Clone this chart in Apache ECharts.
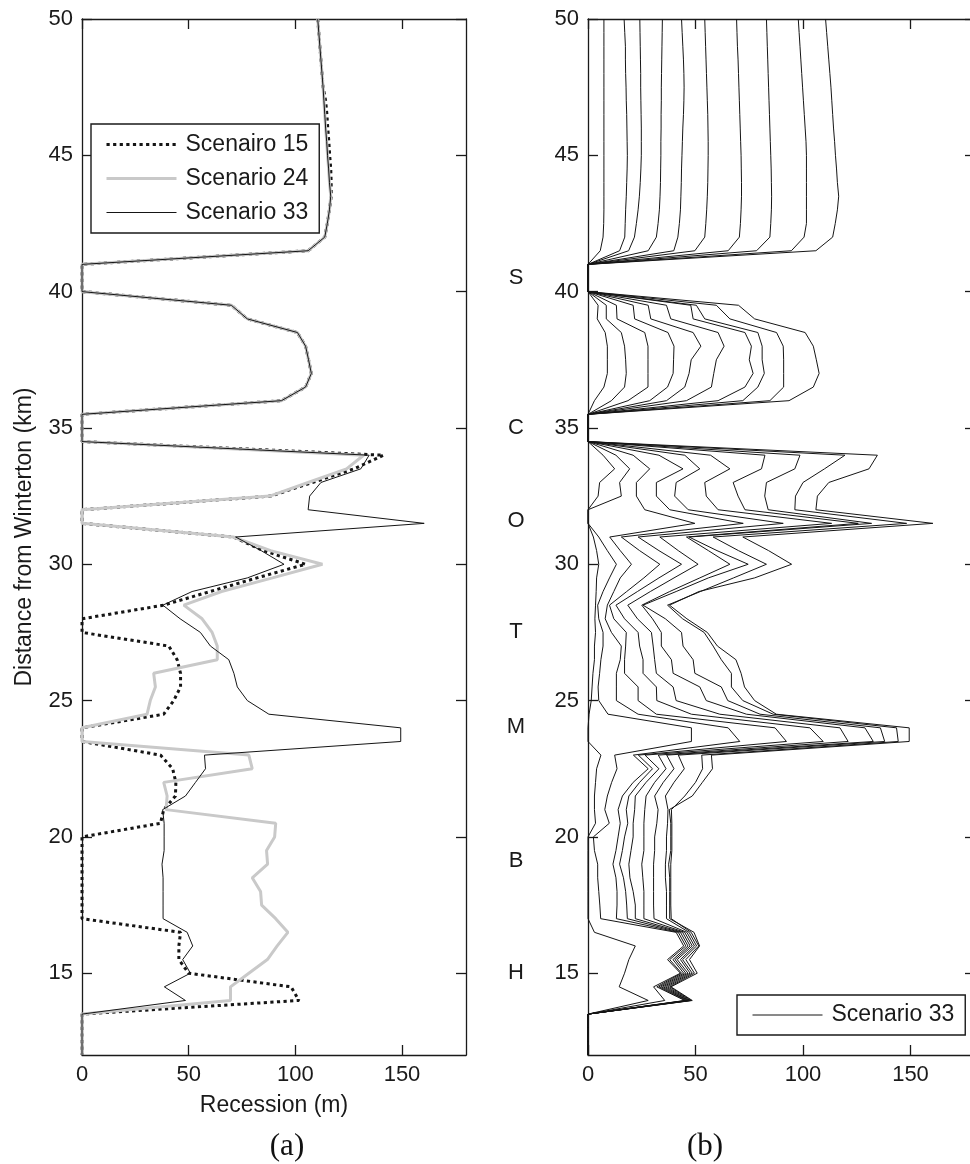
<!DOCTYPE html>
<html>
<head>
<meta charset="utf-8">
<title>Shoreline recession along the Winterton frontage</title>
<script src="https://cdn.jsdelivr.net/npm/echarts@6/dist/echarts.min.js"></script>
<style>
  html, body { margin: 0; padding: 0; background: #ffffff; }
  #chart { width: 970px; height: 1164px; }
</style>
</head>
<body>
<div id="chart"></div>
<script>
// Distance from Winterton (km), one entry per model section
const km = [50,49.5,49,48.5,48,47.5,47,46.5,46,45.5,45,44.5,44,43.5,43,42.5,42,41.5,41,40.5,40,
  39.5,39,38.5,38,37.5,37,36.5,36,35.5,35,34.5,34,33.5,33,32.5,32,31.5,31,30.5,30,
  29.5,29,28.5,28,27.5,27,26.5,26,25.5,25,24.5,24,23.5,23,22.5,22,21.5,21,20.5,20,
  19.5,19,18.5,18,17.5,17,16.5,16,15.5,15,14.5,14,13.5,13,12.5,12];

// Recession (m), final state of each scenario
const scenario15 = [110.5,111,111.5,112,112.5,113,114.2,114.8,115.2,115.7,116.1,116.6,116.8,116.8,116,115,113.8,106,
  0,0,0,
  70,77.5,101,104.8,106.2,107.5,104.8,93.5,0,
  0,0,
  141.3,127.5,108,88.4,0,0,70.9,85,104.8,
  82,60,38.3,0,0,40.7,44.6,46.2,46.2,43,38.3,0,0,
  36.8,42.5,44,43.8,38.3,36.8,0,0,0,0,0,0,0,
  46.2,45.4,45.4,50,98,101.7,
  0,0,0,0];

const scenario24 = [110.5,111,111.5,112,112.5,113,113.4,113.8,114.2,114.7,115.1,115.6,116,116.6,116,115,113.8,106,
  0,0,0,
  70,77.5,101,104.8,106.2,107.5,104.8,93.5,0,
  0,0,
  132,124,106,88,0,0,70.9,88.4,112.7,
  89.3,65.4,47.7,56.3,61,63.4,63.4,33.6,34.4,32,30.5,0,0,
  78.2,79.8,38.3,39.9,39.4,90.8,90.3,86.5,87,79.8,83.7,84.2,90.8,
  96.5,91.5,86.9,78.2,69.6,69.6,
  0,0,0,0];

const scenario33 = [110.5,111,111.5,112,112.5,113,113.4,113.8,114.2,114.7,115.1,115.6,116,116.6,116,115,113.8,106,
  0,0,0,
  70,77.5,101,104.8,106.2,107.5,104.8,93.5,0,
  0,0,
  134.6,130.7,112,106.7,106,160.4,72,84,94.7,
  77.5,51.6,37.9,46,55.5,60.2,68.8,71.2,72.8,77.5,87.6,149.4,149.4,
  57.4,57.9,53.2,48.5,37.8,38.5,38.5,38.5,37.5,38,38,38,38,
  49.3,51.9,47.2,50.8,38.6,48.5,
  0,0,0,0];

// Scenario 33 intermediate states (earliest first); the last state is scenario33
const s33step1 = [7.4,7.4,7.4,7.4,7.4,7.4,7.4,7.4,7.4,7.4,7.4,7.4,7.4,7.4,7.4,7.3,7.0,5.7,
  0,0,0,
  4.7,4.3,8,9,9,9,7.4,3,0,
  0,0,
  7,12.4,5.4,4.7,0,0,2.5,4,5,
  4,3.8,3.5,3.2,3.5,3,3,2.3,1.9,1.5,0.5,0,0,
  6,4,3.5,3,3,3.5,0,0,0,0,0,0,0,
  3,22,19,17,14.5,28,
  0,0,0,0];
const s33step2 = [16.8,17.1,17.4,17.4,17.5,17.7,17.8,18.0,18.1,18.2,18.3,18.2,18.0,17.8,17.5,17.3,17.1,14.7,
  0,0,0,
  8.5,8.5,15.5,17,17.5,17.8,17,10.9,0,
  0,0,
  13,19.4,14.7,15.5,0,0,5,9,13.2,
  10,7,4.5,5,7,7,6,5.4,4.7,5,9.3,48.1,48.1,
  12.4,13.5,11,9,7.8,9.9,2.5,3,4.5,4.5,5,5.5,5.9,
  41,44.5,37,43,30.5,35.7,
  0,0,0,0];
const s33step3 = [24.1,24.2,24.3,24.4,24.5,24.5,24.6,24.7,24.8,24.8,24.8,24.6,24.3,23.9,23.3,22.5,21.6,18.9,
  0,0,0,
  13.2,13.5,26.4,27.9,27.9,27.9,27.9,18.6,0,
  0,0,
  21,28.7,22.5,22.5,26.4,49.7,10.1,15,20.2,
  15,12,9,8,10.9,15.5,15,13.2,13.2,13.2,23.3,65.2,70.6,
  21.1,28,21,16,14,15,14,13,11.6,13,13.5,13.5,13.2,
  42,45.5,38,43.5,32,45,
  0,0,0,0];
const s33step4 = [34.6,34.5,34.4,34.3,34.2,34.1,34.1,34.0,34.0,33.9,33.9,33.8,33.7,33.5,33.2,32.6,31.8,28.0,
  0,0,0,
  21,21.7,37.2,40,39.8,39.6,37,28.7,0,
  0,0,
  33,44.2,31.8,31.8,38,72.2,15.5,24,33.4,
  26,18,10,12,17.8,17.5,17,17,23.3,23.3,31.8,87,92.3,
  23.4,30,24,19,17.8,18.5,17,16,14.7,16.5,17.5,18,18.3,
  43,46.5,39.5,44.5,33,45.5,
  0,0,0,0];
const s33step5 = [43.5,43.8,44.1,44.4,44.6,44.7,44.6,44.4,44.1,43.9,43.7,43.5,43.4,43.2,43.0,42.5,41.8,39.9,
  0,0,0,
  28,29.2,48.9,52.5,48,47,45,36.5,0,
  0,0,
  45,52,41,40.3,46.6,90.8,23.3,33,43.5,
  33,23,13,17,23.3,24,25.6,25.6,31.8,32,48.1,103.2,109.4,
  26.5,33,27,22,21.7,21,21,20,19,19.5,21,22,22,
  44,47.5,40.5,45.5,34,46,
  0,0,0,0];
const s33step6 = [54.3,54.5,54.7,54.9,55.1,55.3,55.5,55.7,55.8,55.9,55.9,55.8,55.7,55.5,55.2,54.8,54.3,49.7,
  0,0,0,
  36.5,38.5,60.5,63.3,59.7,58.5,57.4,45.8,0,
  0,0,
  57,66,54.3,55,60.5,113.3,33.4,42,51.2,
  40,29,18.5,23,29.5,30.3,31,31.8,39.6,41,61.3,117.2,121,
  32.7,36.3,31,27,26.4,26,26,26,25,25.5,26,26,26,
  45,48.5,41.5,46.5,35,46.5,
  0,0,0,0];
const s33step7 = [69.1,69.3,69.5,69.8,70.0,70.2,70.4,70.6,70.8,71.0,71.2,71.3,71.4,71.4,71.2,70.9,70.4,65.2,
  0,0,0,
  47.8,48.9,73,76,75,76.8,73,60.5,0,
  0,0,
  82.3,80.7,67.5,69.8,73,125.7,45.8,56,66,
  52,38,25,30,34.1,34.1,38.8,39.6,52,55,73.7,128.8,132.7,
  36.6,40,35,31,32.6,32,31,31,30.5,30.5,30.5,30.5,30.7,
  46,49.5,43,47.5,36,47,
  0,0,0,0];
const s33step8 = [83.0,83.2,83.4,83.6,83.8,84.0,84.2,84.4,84.6,84.8,85.0,85.2,85.3,85.4,85.3,85.0,84.6,78.4,
  0,0,0,
  50.4,54.3,79,81,81,82,79,72,0,
  0,0,
  98.6,96.2,83,82.2,83.8,131.9,47,60,74.5,
  56,41,25.6,36,43.5,44.2,48.9,49.7,62,65,80,136,138,
  42,44.8,40,36,37.2,37,36.5,36.5,36,36,36.5,36.5,36.5,
  47,50.5,44,48.5,37,47.5,
  0,0,0,0];
const s33step9 = [97.8,98.2,98.6,99.0,99.4,99.8,100.2,100.6,101.0,101.4,101.6,101.6,101.6,101.6,101.6,101.6,100.5,94.6,
  0,0,0,
  59.7,66,87.7,90.8,91,91,91,84.6,0,
  0,0,
  119.5,110,100,96.5,96.2,148.2,58.2,70,83,
  67.7,52.3,37,44,54,58.2,62,66.7,66.7,72,86.1,143.5,144.3,
  52.9,53.3,50,45,38.8,39,39,39,38.5,38.5,38.5,38.5,38.7,
  48,51.5,45.5,49.5,38,48,
  0,0,0,0];

// Tick values and coastal site markers
const xTicks = [0, 50, 100, 150];
const yTicks = [15, 20, 25, 30, 35, 40, 45, 50];
const siteNames = ['S', 'C', 'O', 'T', 'M', 'B', 'H'];
const siteKm = [40.5, 35, 31.6, 27.5, 24.05, 19.1, 15];

const INK = '#1a1a1a';
const FONT = '"Liberation Sans", Arial, sans-serif';
const TICK_SIZE = 22;
const NAME_SIZE = 23;

const toPairs = vals => vals.map((v, i) => [v, km[i]]);

function xAxisPair(gridIndex, withName) {
  const lineStyle = { color: INK, width: 1.3 };
  const bottom = {
    gridIndex, type: 'value', min: 0, max: 180, position: 'bottom',
    axisLine: { show: true, onZero: false, lineStyle },
    axisTick: { show: true, inside: true, length: 10, customValues: xTicks, lineStyle },
    axisLabel: { customValues: xTicks, fontSize: TICK_SIZE, color: INK, fontFamily: FONT, margin: 9 },
    splitLine: { show: false }
  };
  if (withName) {
    Object.assign(bottom, {
      name: 'Recession (m)', nameLocation: 'middle', nameGap: 39,
      nameTextStyle: { fontSize: NAME_SIZE, color: INK, fontFamily: FONT }
    });
  }
  const top = {
    gridIndex, type: 'value', min: 0, max: 180, position: 'top',
    axisLine: { show: true, onZero: false, lineStyle },
    axisTick: { show: true, inside: true, length: 10, customValues: xTicks, lineStyle },
    axisLabel: { show: false },
    splitLine: { show: false }
  };
  return [bottom, top];
}

function yAxisPair(gridIndex, withName) {
  const lineStyle = { color: INK, width: 1.3 };
  const left = {
    gridIndex, type: 'value', min: 12, max: 50, position: 'left',
    axisLine: { show: true, onZero: false, lineStyle },
    axisTick: { show: true, inside: true, length: 10, customValues: yTicks, lineStyle },
    axisLabel: { customValues: yTicks, fontSize: TICK_SIZE, color: INK, fontFamily: FONT, margin: 9 },
    splitLine: { show: false }
  };
  if (withName) {
    Object.assign(left, {
      name: 'Distance from Winterton (km)', nameLocation: 'middle', nameGap: 46, nameRotate: 90,
      nameTextStyle: { fontSize: NAME_SIZE, color: INK, fontFamily: FONT }
    });
  }
  const right = {
    gridIndex, type: 'value', min: 12, max: 50, position: 'right',
    axisLine: { show: true, onZero: false, lineStyle },
    axisTick: { show: true, inside: true, length: 10, customValues: yTicks, lineStyle },
    axisLabel: { show: false },
    splitLine: { show: false }
  };
  return [left, right];
}

// Site letters beside panel (b)
const siteAxis = {
  gridIndex: 1, type: 'value', min: 12, max: 50, position: 'left',
  axisLine: { show: false }, axisTick: { show: false }, splitLine: { show: false },
  axisLabel: {
    customValues: siteKm, fontSize: TICK_SIZE, color: INK, fontFamily: FONT,
    align: 'center', margin: 72,
    formatter: v => { const i = siteKm.indexOf(v); return i >= 0 ? siteNames[i] : ''; }
  }
};

const legendBase = {
  orient: 'vertical', selectedMode: false, backgroundColor: '#ffffff',
  borderColor: INK, borderWidth: 1.4, borderRadius: 0,
  itemWidth: 70, itemHeight: 14, itemGap: 11,
  itemStyle: { opacity: 0 },
  textStyle: { fontSize: 23, color: INK, fontFamily: FONT, padding: [0, 0, 0, 4] }
};

const panelBSteps = [s33step1, s33step2, s33step3, s33step4, s33step5,
  s33step6, s33step7, s33step8, s33step9, scenario33];

const DOT_STYLE = { color: '#151515', width: 3, type: [3.2, 3.4] };
const GREY_STYLE = { color: '#c9c9c9', width: 3 };
const THIN_STYLE = { color: '#151515', width: 1 };

const series = [
  // panel (a): dotted first, grey over it, thin black on top
  { name: 'Scenairo 15', type: 'line', xAxisIndex: 0, yAxisIndex: 0, symbol: 'none',
    lineStyle: DOT_STYLE, data: toPairs(scenario15), z: 2 },
  { name: 'Scenario 24', type: 'line', xAxisIndex: 0, yAxisIndex: 0, symbol: 'none',
    lineStyle: GREY_STYLE, data: toPairs(scenario24), z: 3 },
  { name: 'Scenario 33', type: 'line', xAxisIndex: 0, yAxisIndex: 0, symbol: 'none',
    lineStyle: THIN_STYLE, data: toPairs(scenario33), z: 4 }
];
panelBSteps.forEach(vals => {
  series.push({
    name: 'Scenario 33', type: 'line', xAxisIndex: 2, yAxisIndex: 2, symbol: 'none',
    lineStyle: THIN_STYLE, data: toPairs(vals), z: 3
  });
});

const [ax0, ax1] = xAxisPair(0, true);
const [ax2, ax3] = xAxisPair(1, false);
const [ay0, ay1] = yAxisPair(0, true);
const [ay2, ay3] = yAxisPair(1, false);

const CAPTION_FONT = '31px "Liberation Serif", "Times New Roman", serif';

const option = {
  animation: false,
  backgroundColor: '#ffffff',
  grid: [
    { left: 82, top: 19, width: 384, height: 1036, outerBoundsMode: 'none' },
    { left: 588, top: 19, width: 387, height: 1036, outerBoundsMode: 'none' }
  ],
  xAxis: [ax0, ax1, ax2, ax3],
  yAxis: [ay0, ay1, ay2, ay3, siteAxis],
  legend: [
    Object.assign({}, legendBase, {
      left: 91, top: 124, padding: [9, 11, 9, 14],
      data: [
        { name: 'Scenairo 15', lineStyle: DOT_STYLE },
        { name: 'Scenario 24', lineStyle: GREY_STYLE },
        { name: 'Scenario 33', lineStyle: THIN_STYLE }
      ]
    }),
    Object.assign({}, legendBase, {
      left: 737, top: 995, padding: [8.5, 11, 8.5, 15],
      data: [{ name: 'Scenario 33', lineStyle: THIN_STYLE }]
    })
  ],
  graphic: [
    { type: 'text', x: 287, y: 1147,
      style: { text: '(a)', font: CAPTION_FONT, fill: '#111', align: 'center', verticalAlign: 'middle' } },
    { type: 'text', x: 705, y: 1147,
      style: { text: '(b)', font: CAPTION_FONT, fill: '#111', align: 'center', verticalAlign: 'middle' } }
  ],
  series
};

const chart = echarts.init(document.getElementById('chart'), null, { renderer: 'canvas' });
chart.setOption(option);
</script>
</body>
</html>
